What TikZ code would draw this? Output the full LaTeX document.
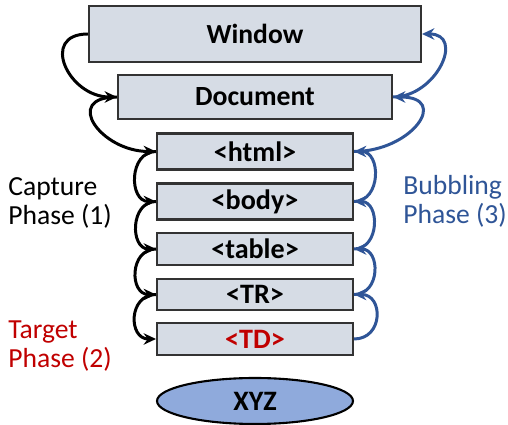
\documentclass[tikz,border=0pt]{standalone}
\usepackage{fontspec}
\setmainfont{Carlito}
\usetikzlibrary{arrows.meta,shapes.geometric}

\definecolor{boxfill}{RGB}{214,220,229}
\definecolor{bubblue}{RGB}{47,85,151}
\definecolor{tdred}{RGB}{192,0,0}
\definecolor{xyzfill}{RGB}{143,170,220}

\tikzset{
  elem/.style={draw=black!80, line width=1.2pt, fill=boxfill, font=\bfseries\fontsize{16}{18}\selectfont,
    minimum width=3.92cm, minimum height=0.72cm, inner sep=0pt},
  phase/.style={anchor=west, align=left, inner sep=0pt, font=\fontsize{15.7}{16.5}\selectfont},
  capture/.style={-{Stealth[length=7pt,width=6.5pt]}, line width=1.7pt, black},
  bubble/.style={-{Stealth[length=7pt,width=6.5pt]}, line width=1.7pt, bubblue}
}

\begin{document}
\begin{tikzpicture}[x=0.02cm, y=-0.02cm]
  \useasboundingbox (0,0) rectangle (508,425);
  \node (win) [elem, minimum width=6.64cm, minimum height=1.12cm, font=\bfseries\fontsize{15.7}{17}\selectfont] at (255,34) {Window};
  \node (doc) [elem, minimum width=5.48cm, minimum height=0.88cm, font=\bfseries\fontsize{15.8}{17}\selectfont] at (255,97) {Document};
  \node (html) [elem] at (255,151.5) {<html>};
  \node (body) [elem] at (255,201.5) {<body>};
  \node (table) [elem, minimum height=0.64cm] at (255,249) {<table>};
  \node (tr) [elem, minimum height=0.62cm] at (255,294.5) {<TR>};
  \node (td) [elem, minimum height=0.64cm, text=tdred] at (255,339) {<TD>};
  \node (xyz) [ellipse, draw=black, line width=1.2pt, fill=xyzfill, minimum width=3.92cm, minimum height=0.92cm,
    inner sep=0pt, font=\bfseries\fontsize{16}{18}\selectfont] at (255,401) {XYZ};

  \node (cap) [phase] at (8,203) {Capture\\Phase (1)};
  \node (bub) [phase, text=bubblue] at (403,201) {Bubbling\\Phase (3)};
  \node (tgt) [phase, text=tdred] at (8,346) {Target\\Phase (2)};

  \path[capture]
  (win.west)  edge [out=180, in=180, looseness=1.8] (doc.west)
  (doc.west)  edge [out=180, in=180, looseness=2.1] (html.west)
  (html.west) edge [out=180, in=180, looseness=1.4] (body.west)
  (body.west) edge [out=180, in=180, looseness=1.4] (table.west)
  (table.west) edge [out=180, in=180, looseness=1.5] (tr.west)
  (tr.west)   edge [out=180, in=180, looseness=1.6] (td.west)
  ;
  \path[bubble]
  (td.east)    edge [out=0, in=0, looseness=1.7] (tr.east)
  (tr.east)    edge [out=0, in=0, looseness=1.5] (table.east)
  (table.east) edge [out=0, in=0, looseness=1.4] (body.east)
  (body.east)  edge [out=0, in=0, looseness=1.4] (html.east)
  (html.east)  edge [out=0, in=0, looseness=2.2] (doc.east)
  (doc.east)   edge [out=0, in=0, looseness=1.6] (win.east)
  ;
\end{tikzpicture}
\end{document}
